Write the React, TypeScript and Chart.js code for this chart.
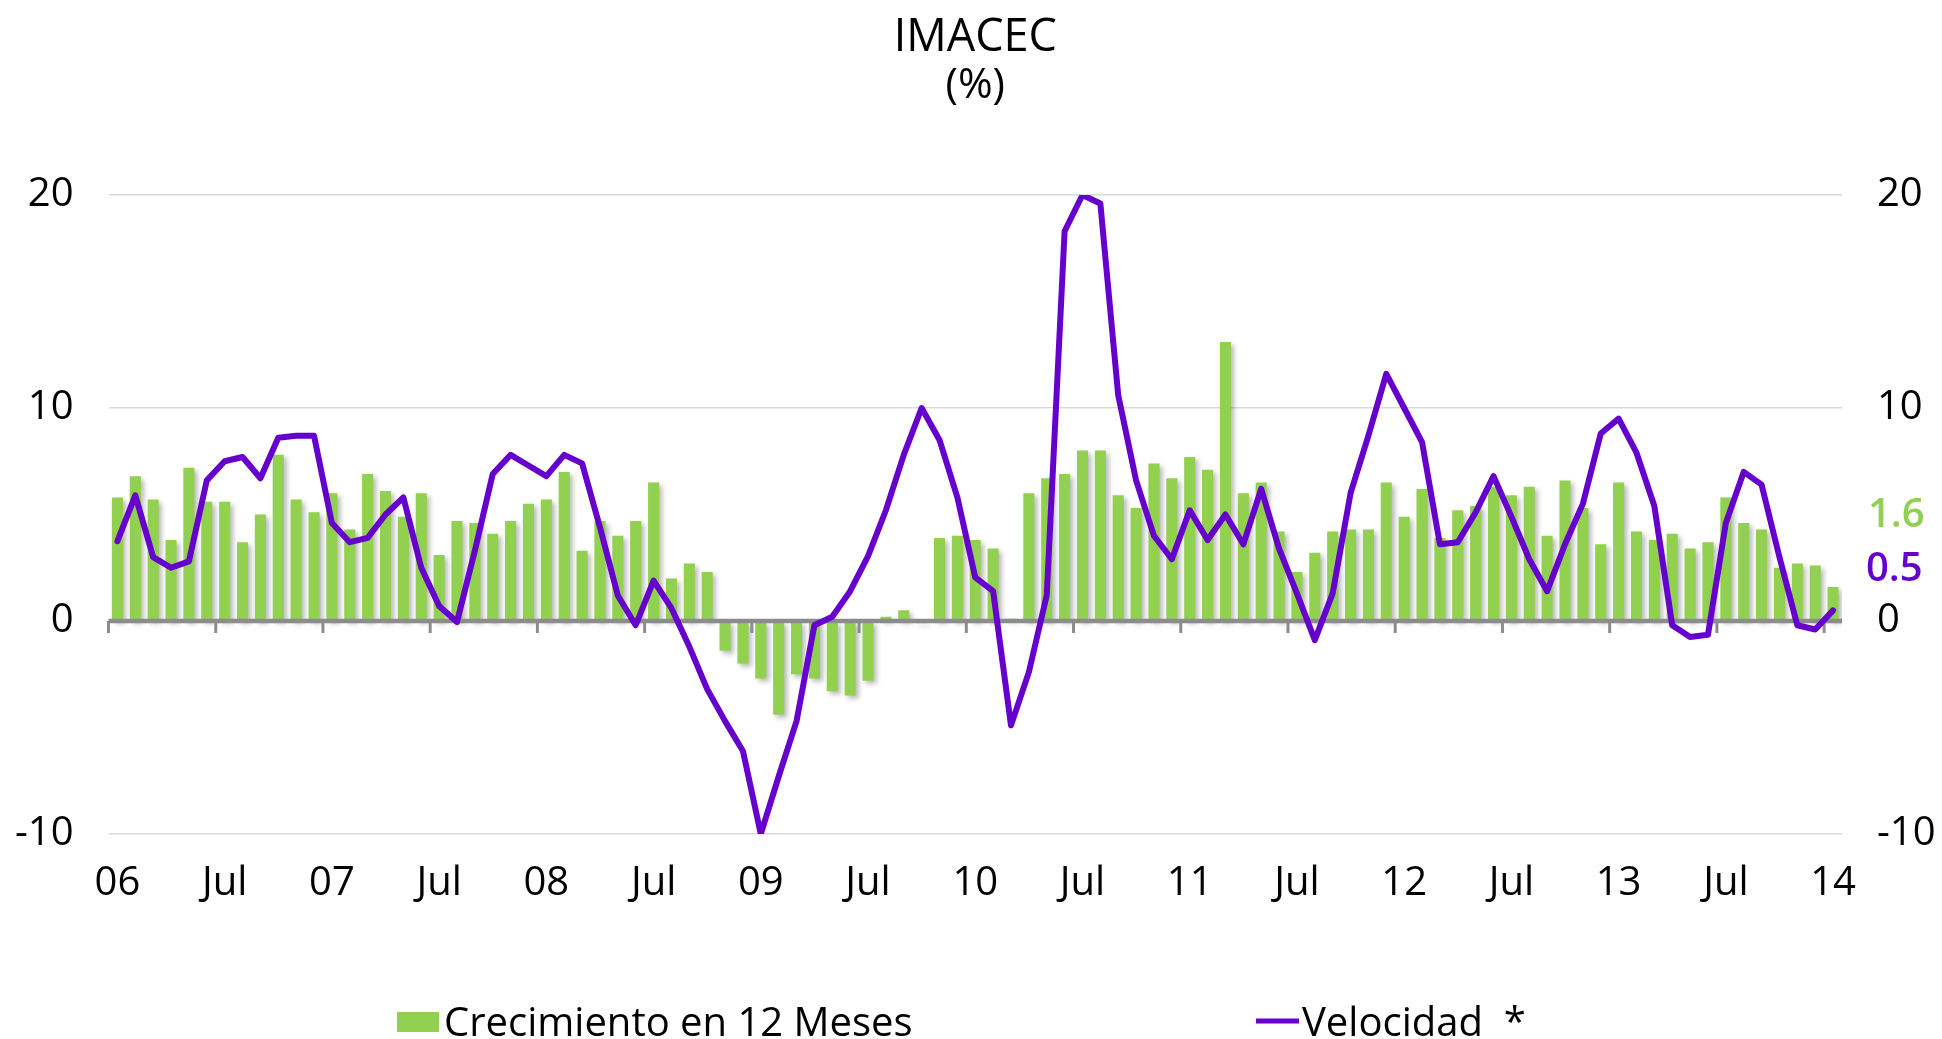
import React, { useEffect, useRef } from 'react';
import { Chart, registerables } from 'chart.js';

Chart.register(...registerables);

const GREEN = '#92D050';
const PURPLE = '#6600CC';
const AXIS_GRAY = '#8c8c8c';
const FONT = "'Open Sans', 'Noto Sans', sans-serif";

// Monthly categories Jan 2006 .. Jan 2014
const categories: string[] = [];
for (let i = 0; i < 97; i++) {
  const y = 2006 + Math.floor(i / 12);
  const m = (i % 12) + 1;
  categories.push(`${y}-${m < 10 ? '0' + m : m}`);
}

// One label every 6 months (Jan / Jul)
const tickLabels = ['06', 'Jul', '07', 'Jul', '08', 'Jul', '09', 'Jul', '10', 'Jul', '11', 'Jul', '12', 'Jul', '13', 'Jul', '14'];

// Crecimiento en 12 Meses (%)
const crecimiento = [
  5.8, 6.8, 5.7, 3.8, 7.2, 5.6, 5.6, 3.7, 5.0, 7.8, 5.7, 5.1,
  6.0, 4.3, 6.9, 6.1, 4.9, 6.0, 3.1, 4.7, 4.6, 4.1, 4.7, 5.5,
  5.7, 7.0, 3.3, 4.7, 4.0, 4.7, 6.5, 2.0, 2.7, 2.3, -1.4, -2.0,
  -2.7, -4.4, -2.5, -2.7, -3.3, -3.5, -2.8, 0.2, 0.5, -0.1, 3.9, 4.0,
  3.8, 3.4, 0.1, 6.0, 6.7, 6.9, 8.0, 8.0, 5.9, 5.3, 7.4, 6.7,
  7.7, 7.1, 13.1, 6.0, 6.5, 4.2, 2.3, 3.2, 4.2, 4.3, 4.3, 6.5,
  4.9, 6.2, 3.9, 5.2, 5.4, 6.3, 5.9, 6.3, 4.0, 6.6, 5.3, 3.6,
  6.5, 4.2, 3.8, 4.1, 3.4, 3.7, 5.8, 4.6, 4.3, 2.5, 2.7, 2.6,
  1.6,
];

// Velocidad * (%)
const velocidad = [
  3.75, 5.9, 3.0, 2.5, 2.8, 6.6, 7.5, 7.7, 6.7, 8.6, 8.7, 8.7,
  4.6, 3.7, 3.9, 5.0, 5.8, 2.5, 0.7, -0.05, 3.3, 6.9, 7.8, 7.3,
  6.8, 7.8, 7.4, 4.4, 1.2, -0.2, 1.9, 0.6, -1.2, -3.2, -4.7, -6.1,
  -10.0, -7.3, -4.7, -0.2, 0.2, 1.4, 3.05, 5.2, 7.8, 10.0, 8.5, 5.8,
  2.05, 1.4, -4.9, -2.4, 1.2, 18.3, 20.0, 19.6, 10.6, 6.6, 4.0, 2.9,
  5.2, 3.8, 5.0, 3.6, 6.2, 3.4, 1.3, -0.9, 1.3, 6.0, 8.7, 11.6,
  10.0, 8.4, 3.6, 3.7, 5.1, 6.8, 4.9, 2.9, 1.4, 3.6, 5.5, 8.8,
  9.5, 7.9, 5.4, -0.2, -0.75, -0.65, 4.6, 7.0, 6.4, 3.0, -0.2, -0.4,
  0.5,
];

// Latest-value annotations shown beside the right axis
const latestLabels = ['1.6', '0.5'];

const imacecPlugin = {
  id: 'imacecDecor',
  beforeDatasetDraw(chart: any, args: any) {
    const ds = chart.data.datasets[args.index];
    if (ds.type === 'bar') {
      const ctx = chart.ctx;
      ctx.save();
      ctx.shadowColor = 'rgba(0,0,0,0.28)';
      ctx.shadowBlur = 5;
      ctx.shadowOffsetX = 3;
      ctx.shadowOffsetY = 3;
    }
  },
  afterDatasetDraw(chart: any, args: any) {
    const ds = chart.data.datasets[args.index];
    if (ds.type !== 'bar') return;
    const ctx = chart.ctx;
    ctx.restore();
    const { left, right } = chart.chartArea;
    const xs = chart.scales.x;
    const y0 = chart.scales.y.getPixelForValue(0);
    ctx.save();
    ctx.strokeStyle = AXIS_GRAY;
    ctx.lineWidth = 4.5;
    ctx.beginPath();
    ctx.moveTo(left, y0);
    ctx.lineTo(right, y0);
    ctx.stroke();
    const half = (xs.getPixelForValue(1) - xs.getPixelForValue(0)) / 2;
    ctx.lineWidth = 3;
    for (let i = 0; i < categories.length; i += 6) {
      const x = xs.getPixelForValue(i) - half;
      ctx.beginPath();
      ctx.moveTo(x, y0);
      ctx.lineTo(x, y0 + 12);
      ctx.stroke();
    }
    ctx.restore();
  },
  afterDraw(chart: any) {
    const ctx = chart.ctx;
    const { left, right } = chart.chartArea;
    const yS = chart.scales.y;
    ctx.save();
    // Title
    ctx.fillStyle = '#000';
    ctx.textAlign = 'center';
    ctx.textBaseline = 'alphabetic';
    ctx.font = `45px ${FONT}`;
    const cx = (left + right) / 2;
    ctx.fillText('IMACEC', cx, 51);
    ctx.font = `42px ${FONT}`;
    ctx.fillText('(%)', cx, 98);

    // Latest-value annotations
    ctx.textAlign = 'left';
    ctx.textBaseline = 'middle';
    ctx.font = `600 40px ${FONT}`;
    ctx.fillStyle = GREEN;
    ctx.fillText(latestLabels[0], right + 26, yS.getPixelForValue(4.95));
    ctx.fillStyle = PURPLE;
    ctx.fillText(latestLabels[1], right + 24, yS.getPixelForValue(2.4));

    // Legend
    const barDs = chart.data.datasets.find((d: any) => d.type === 'bar');
    const lineDs = chart.data.datasets.find((d: any) => d.type === 'line');
    ctx.textBaseline = 'alphabetic';
    ctx.font = `40px ${FONT}`;
    ctx.fillStyle = barDs.backgroundColor;
    ctx.fillRect(397, 1012, 42, 20);
    ctx.fillStyle = '#000';
    ctx.fillText(barDs.label, 444, 1036);
    ctx.strokeStyle = lineDs.borderColor;
    ctx.lineWidth = 5;
    ctx.beginPath();
    ctx.moveTo(1256, 1021);
    ctx.lineTo(1299, 1021);
    ctx.stroke();
    ctx.fillStyle = '#000';
    ctx.fillText(lineDs.label, 1302, 1036);
    ctx.restore();
  },
};

export default function App() {
  const ref = useRef<HTMLCanvasElement | null>(null);

  useEffect(() => {
    document.body.style.margin = '0';
    const canvas = ref.current;
    if (!canvas) return;
    Chart.defaults.font.family = FONT;

    const tickFont = { size: 40, family: FONT };
    const chart = new Chart(canvas, {
      data: {
        labels: categories,
        datasets: [
          {
            type: 'line',
            label: 'Velocidad  *',
            data: velocidad,
            borderColor: PURPLE,
            backgroundColor: PURPLE,
            borderWidth: 6,
            pointRadius: 0,
            tension: 0,
            borderJoinStyle: 'round',
            borderCapStyle: 'round',
            order: 0,
            yAxisID: 'y',
          },
          {
            type: 'bar',
            label: 'Crecimiento en 12 Meses',
            data: crecimiento,
            backgroundColor: GREEN,
            barPercentage: 0.62,
            categoryPercentage: 1,
            order: 1,
            yAxisID: 'y',
          },
        ] as any,
      },
      options: {
        responsive: false,
        animation: false,
        events: [],
        layout: { padding: { top: 195, bottom: 0, left: 0, right: 0 } },
        plugins: {
          legend: { display: false },
          title: { display: false },
          tooltip: { enabled: false },
        },
        scales: {
          x: {
            type: 'category',
            offset: true,
            grid: { display: false, offset: true },
            border: { display: false },
            ticks: {
              autoSkip: false,
              maxRotation: 0,
              minRotation: 0,
              padding: 18,
              color: '#000',
              font: tickFont,
              callback: (_v: any, i: number) => (i % 6 === 0 ? tickLabels[i / 6] : ''),
            },
            afterFit: (s: any) => {
              s.height = 205;
            },
          },
          y: {
            position: 'left',
            min: -10,
            max: 20,
            ticks: { stepSize: 10, padding: 35, color: '#000', font: tickFont },
            grid: { color: '#d9d9d9', lineWidth: 1.5, drawTicks: false },
            border: { display: false },
            afterFit: (s: any) => {
              s.width = 108.5;
            },
          },
          y2: {
            position: 'right',
            min: -10,
            max: 20,
            ticks: { stepSize: 10, padding: 35, color: '#000', font: tickFont },
            grid: { display: false, drawTicks: false },
            border: { display: false },
            afterFit: (s: any) => {
              s.width = 100;
            },
          },
        },
      } as any,
      plugins: [imacecPlugin as any],
    });

    return () => {
      chart.destroy();
    };
  }, []);

  return (
    <div style={{ width: 1942, height: 1039, background: '#fff' }}>
      <canvas ref={ref} width={1942} height={1039} style={{ display: 'block', width: 1942, height: 1039 }} />
    </div>
  );
}
